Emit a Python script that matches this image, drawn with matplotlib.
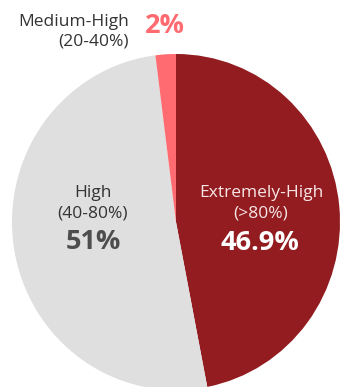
import matplotlib.pyplot as plt

# slice data, clockwise from 12 o'clock
categories = ["Extremely-High", "High", "Medium-High"]
ranges = ["(>80%)", "(40-80%)", "(20-40%)"]
shares = [46.9, 51, 2]
pct_labels = ["46.9%", "51%", "2%"]
colors = ["#921c20", "#dfdfdf", "#ff6b70"]

plt.rcParams["font.family"] = ["Open Sans", "DejaVu Sans"]

W, H = 341, 387
fig = plt.figure(figsize=(W / 100, H / 100), dpi=100)
ax = fig.add_axes([0, 0, 1, 1])

ax.pie(shares, colors=colors, startangle=90, counterclock=False,
       radius=1, center=(0, 0), wedgeprops=dict(linewidth=0))

# pie is drawn a little taller than wide in the reference
cx, cy, rx, ry = 176, 222, 164, 168
ax.set_aspect("auto")
ax.set_xlim(-cx / rx, (W - cx) / rx)
ax.set_ylim(-(H - cy) / ry, cy / ry)
ax.axis("off")


def px(x, y):
    return x / W, 1 - y / H


lab_size = 12.5
pct_size = 19.5

# Extremely-High, inside the red slice
fig.text(*px(261, 193), categories[0], color="#f6e6e6", fontsize=lab_size,
         ha="center", va="center")
fig.text(*px(261, 213), ranges[0], color="#f6e6e6", fontsize=lab_size,
         ha="center", va="center")
fig.text(*px(260, 243), pct_labels[0], color="white", fontsize=pct_size,
         fontweight="bold", ha="center", va="center")

# High, inside the grey slice
fig.text(*px(93, 193), categories[1], color="#333333", fontsize=lab_size,
         ha="center", va="center")
fig.text(*px(93, 213), ranges[1], color="#333333", fontsize=lab_size,
         ha="center", va="center")
fig.text(*px(93, 242), pct_labels[1], color="#4d4d4d", fontsize=pct_size,
         fontweight="bold", ha="center", va="center")

# Medium-High, outside above the pie
fig.text(*px(129, 22), categories[2], color="#333333", fontsize=lab_size,
         ha="right", va="center")
fig.text(*px(129, 42), ranges[2], color="#333333", fontsize=lab_size,
         ha="right", va="center")
fig.text(*px(165, 26), pct_labels[2], color=colors[2], fontsize=pct_size,
         fontweight="bold", ha="center", va="center")

fig.savefig("out.png", dpi=100)
